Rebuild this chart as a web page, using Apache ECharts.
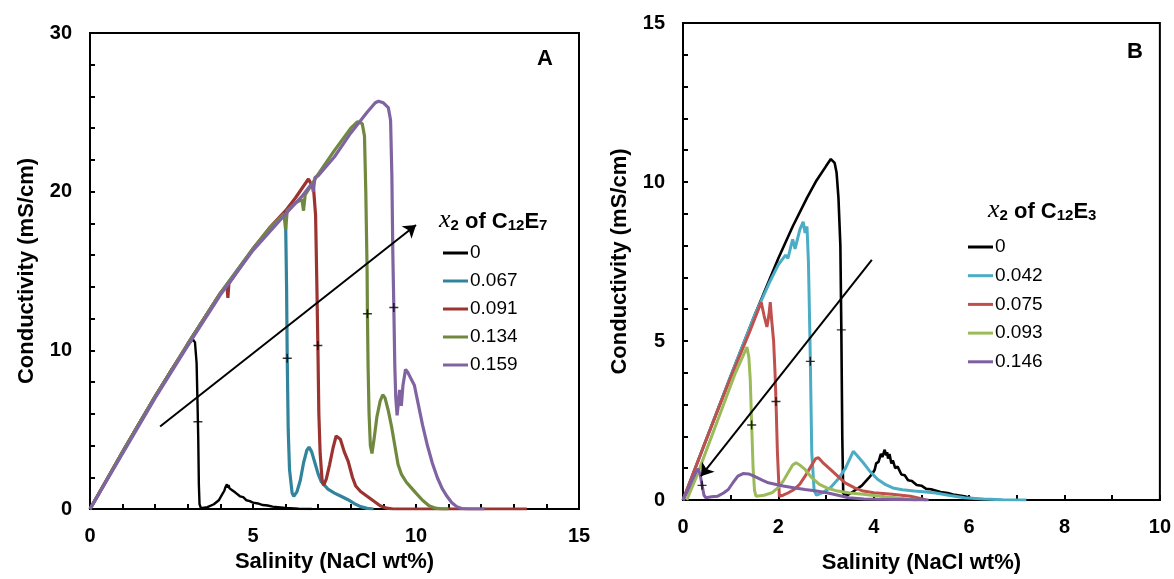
<!DOCTYPE html>
<html>
<head>
<meta charset="utf-8">
<script src="https://cdn.jsdelivr.net/npm/echarts@6/dist/echarts.min.js"></script>
<style>
html,body{margin:0;padding:0;background:#fff;}
#c{width:1174px;height:579px;}
</style>
</head>
<body>
<div id="c"></div>
<script>
// ---------- Panel A : x2 of C12E7 ----------
const namesA = ['0', '0.067', '0.091', '0.134', '0.159'];
const colorsA = ['#000000', '#31849B', '#9B3431', '#71893F', '#8064A2'];
const a0 = [[0,0],[0.5,1.8],[1,3.6],[1.5,5.4],[2,7.1],[2.5,8.8],[3.0,10.3],[3.15,10.7],[3.22,10.5],[3.27,9.2],[3.3,6.5],[3.32,4.5],[3.34,1.5],[3.36,0.3],[3.4,0.05],[3.6,0.12],[3.8,0.3],[3.95,0.55],[4.05,0.9],[4.12,1.15],[4.15,1.35],[4.18,1.25],[4.2,1.55],[4.23,1.35],[4.25,1.5],[4.28,1.3],[4.32,1.4],[4.35,1.2],[4.4,1.3],[4.45,1.05],[4.5,1.1],[4.6,0.8],[4.7,0.75],[4.8,0.55],[4.9,0.5],[5.0,0.4],[5.15,0.35],[5.3,0.25],[5.45,0.22],[5.6,0.15],[6.0,0.06],[6.4,0.02],[6.8,0]];
const a1 = [[0,0],[0.5,1.8],[1,3.6],[2,7.1],[3,10.4],[4,13.6],[4.5,15.0],[5,16.4],[5.5,17.6],[5.8,18.3],[5.95,18.6],[6.0,18.2],[6.03,14],[6.05,9.5],[6.08,5],[6.12,2.5],[6.2,1.0],[6.25,0.8],[6.35,1.1],[6.45,1.8],[6.55,2.9],[6.65,3.7],[6.72,3.9],[6.8,3.6],[6.9,2.9],[7.0,2.2],[7.1,1.7],[7.3,1.25],[7.5,1.0],[7.7,0.8],[7.9,0.6],[8.1,0.35],[8.3,0.15],[8.5,0.04],[8.7,0]];
const a2 = [[0,0],[0.5,1.8],[1,3.6],[2,7.1],[3,10.4],[4,13.6],[4.2,14.1],[4.23,13.3],[4.26,14.2],[5,16.4],[5.5,17.7],[6,18.8],[6.3,19.6],[6.5,20.2],[6.7,20.8],[6.78,20.5],[6.85,20.4],[6.92,18.5],[6.96,14],[6.99,10.3],[7.02,6],[7.06,3.5],[7.12,1.8],[7.17,1.5],[7.25,1.9],[7.35,2.8],[7.45,3.8],[7.55,4.6],[7.6,4.7],[7.68,4.4],[7.8,3.6],[7.92,3.0],[8.05,2.0],[8.15,1.45],[8.3,1.1],[8.5,0.8],[8.7,0.5],[8.9,0.2],[9.1,0.05],[9.3,0],[13.4,0]];
const a3 = [[0,0],[0.5,1.8],[1,3.6],[2,7.1],[3,10.4],[4,13.6],[5,16.4],[5.5,17.7],[5.95,18.6],[6.0,17.6],[6.05,18.8],[6.3,19.3],[6.5,19.5],[6.55,18.8],[6.6,19.8],[7,21.1],[7.5,22.6],[8,24.0],[8.2,24.4],[8.35,24.3],[8.42,23.5],[8.46,20],[8.5,15],[8.51,12.3],[8.53,9],[8.56,6],[8.6,4],[8.65,3.5],[8.72,4.5],[8.8,5.8],[8.9,6.8],[8.98,7.2],[9.05,7.0],[9.15,6.2],[9.25,5.2],[9.35,4.0],[9.45,2.8],[9.55,2.2],[9.7,1.7],[9.85,1.35],[10.0,1.0],[10.2,0.55],[10.4,0.2],[10.6,0.05],[10.8,0],[11,0]];
const a4 = [[0,0],[0.5,1.75],[1,3.5],[2,7.0],[3,10.3],[4,13.5],[5,16.3],[6,18.6],[6.5,19.7],[6.8,20.5],[6.85,20.0],[6.9,20.9],[7,21.0],[7.5,22.2],[8,23.7],[8.5,25.0],[8.75,25.6],[8.85,25.7],[9.0,25.6],[9.15,25.3],[9.22,24.5],[9.26,21],[9.29,16],[9.32,12.7],[9.35,9],[9.38,7],[9.42,5.9],[9.46,5.8],[9.5,7.5],[9.55,6.5],[9.6,7.8],[9.68,8.8],[9.75,8.6],[9.85,8.2],[9.95,7.8],[10.05,6.8],[10.2,5.3],[10.35,4.0],[10.5,2.9],[10.65,2.0],[10.8,1.3],[10.95,0.8],[11.1,0.4],[11.25,0.15],[11.4,0.03],[11.6,0],[12.1,0]];
const crossA = [[3.31,5.5],[6.05,9.5],[6.99,10.3],[8.51,12.3],[9.32,12.7]];
const arrowA = [[2.15,5.2],[10.0,17.9]];
const xTicksA = {min:0, max:15, interval:5};
const yTicksA = {min:0, max:30, interval:10};

// ---------- Panel B : x2 of C12E3 ----------
const namesB = ['0', '0.042', '0.075', '0.093', '0.146'];
const colorsB = ['#000000', '#4BACC6', '#C0504D', '#9BBB59', '#7F5FA0'];
const b0 = [[0,0],[0.5,1.95],[1,3.9],[1.5,5.8],[2,7.6],[2.3,8.6],[2.6,9.5],[2.8,10.05],[3.0,10.5],[3.1,10.72],[3.18,10.6],[3.22,10.3],[3.26,9.5],[3.3,8],[3.32,5.4],[3.34,2],[3.36,0.2],[3.45,0.15],[3.6,0.3],[3.75,0.45],[3.9,0.7],[3.98,0.85],[4.02,0.95],[4.05,1.15],[4.1,1.2],[4.15,1.45],[4.18,1.35],[4.23,1.58],[4.26,1.4],[4.28,1.5],[4.3,1.3],[4.33,1.45],[4.37,1.15],[4.4,1.25],[4.45,1.0],[4.5,1.05],[4.58,0.8],[4.65,0.78],[4.72,0.62],[4.8,0.6],[4.9,0.47],[5.0,0.45],[5.1,0.35],[5.2,0.34],[5.4,0.25],[5.55,0.22],[5.7,0.16],[5.9,0.12],[6.1,0.03],[6.3,0]];
const b1 = [[0,0],[0.5,1.95],[1,3.9],[1.5,5.8],[1.8,6.8],[2.0,7.4],[2.15,7.7],[2.2,7.6],[2.3,8.2],[2.35,7.9],[2.45,8.5],[2.52,8.75],[2.56,8.4],[2.6,8.6],[2.63,7.5],[2.65,6],[2.67,4.4],[2.7,1.5],[2.75,0.3],[2.8,0.15],[2.95,0.25],[3.1,0.4],[3.25,0.65],[3.4,0.98],[3.5,1.3],[3.57,1.53],[3.65,1.4],[3.78,1.17],[3.92,0.9],[4.08,0.65],[4.25,0.48],[4.4,0.38],[4.6,0.32],[4.85,0.28],[5.1,0.25],[5.3,0.22],[5.6,0.14],[5.9,0.07],[6.3,0.03],[6.7,0.01],[7.2,0]];
const b2 = [[0,0],[0.5,1.95],[1,3.85],[1.4,5.3],[1.64,6.22],[1.7,5.8],[1.76,5.44],[1.8,5.8],[1.83,6.22],[1.86,5.65],[1.9,5.0],[1.93,4],[1.95,3.1],[1.98,1.5],[2.02,0.12],[2.1,0.15],[2.2,0.22],[2.33,0.33],[2.45,0.5],[2.56,0.75],[2.68,1.05],[2.78,1.3],[2.84,1.33],[2.95,1.15],[3.09,0.96],[3.25,0.74],[3.4,0.54],[3.6,0.38],[3.78,0.28],[4.0,0.23],[4.39,0.18],[4.77,0.12],[5.0,0.04],[5.1,0]];
const b3 = [[0.08,0],[0.3,0.8],[0.6,2.0],[0.9,3.2],[1.1,4.0],[1.25,4.5],[1.34,4.81],[1.38,4.5],[1.41,3.8],[1.44,2.36],[1.47,1.0],[1.5,0.3],[1.53,0.12],[1.7,0.15],[1.87,0.23],[2.0,0.4],[2.1,0.59],[2.2,0.85],[2.3,1.1],[2.37,1.17],[2.45,1.1],[2.56,0.96],[2.7,0.7],[2.86,0.49],[3.05,0.36],[3.24,0.28],[3.5,0.22],[3.78,0.18],[4.0,0.14],[4.24,0.1],[4.5,0.06],[4.7,0.03],[4.9,0]];
const b4 = [[0,0],[0.1,0.3],[0.2,0.65],[0.28,0.9],[0.32,0.98],[0.36,0.8],[0.4,0.46],[0.44,0.15],[0.48,0.07],[0.6,0.1],[0.73,0.12],[0.85,0.22],[0.95,0.33],[1.05,0.55],[1.15,0.75],[1.26,0.83],[1.38,0.82],[1.49,0.75],[1.65,0.63],[1.79,0.54],[2.1,0.44],[2.35,0.38],[2.56,0.33],[2.8,0.28],[3.02,0.23],[3.25,0.15],[3.47,0.07],[3.8,0.03],[4.08,0.02],[5.15,0]];
const crossB = [[3.32,5.35],[2.67,4.36],[1.95,3.1],[1.44,2.36],[0.4,0.46]];
const arrowB = [[3.96,7.55],[0.375,0.75]];
const xTicksB = {min:0, max:10, interval:2};
const yTicksB = {min:0, max:15, interval:5};

const seriesA = [a0, a1, a2, a3, a4];
const seriesB = [b0, b1, b2, b3, b4];

const FONT = "'Liberation Sans', Arial, sans-serif";

function xAxis(idx, t, minorSplit, nameGap) {
  return {
    type: 'value', gridIndex: idx, min: t.min, max: t.max, interval: t.interval,
    name: 'Salinity (NaCl wt%)', nameLocation: 'middle', nameGap: nameGap,
    nameTextStyle: {fontFamily: FONT, fontWeight: 'bold', fontSize: 22, color: '#000'},
    axisLine: {show: true, onZero: false, lineStyle: {color: '#000', width: 2}},
    axisTick: {show: true, inside: true, length: 5, lineStyle: {color: '#000', width: 2}},
    minorTick: {show: true, splitNumber: minorSplit, length: 5, lineStyle: {color: '#000', width: 2}},
    splitLine: {show: false},
    axisLabel: {fontFamily: FONT, fontWeight: 'bold', fontSize: 20, color: '#000', margin: 17}
  };
}
function yAxis(idx, t, minorSplit, nameGap) {
  return {
    type: 'value', gridIndex: idx, min: t.min, max: t.max, interval: t.interval,
    name: 'Conductivity (mS/cm)', nameLocation: 'middle', nameGap: nameGap,
    nameTextStyle: {fontFamily: FONT, fontWeight: 'bold', fontSize: 22, color: '#000'},
    axisLine: {show: true, onZero: false, lineStyle: {color: '#000', width: 2}},
    axisTick: {show: true, inside: true, length: 5, lineStyle: {color: '#000', width: 2}},
    minorTick: {show: true, splitNumber: minorSplit, length: 5, lineStyle: {color: '#000', width: 2}},
    splitLine: {show: false},
    axisLabel: {fontFamily: FONT, fontWeight: 'bold', fontSize: 20, color: '#000', margin: 18}
  };
}

const series = [];
seriesA.forEach((d, i) => series.push({
  type: 'line', name: namesA[i], xAxisIndex: 0, yAxisIndex: 0, data: d,
  showSymbol: false, symbol: 'none', color: colorsA[i],
  lineStyle: {width: i === 0 ? 2.4 : 3.2, color: colorsA[i]}, z: 2 + i
}));
seriesB.forEach((d, i) => series.push({
  type: 'line', name: namesB[i], xAxisIndex: 1, yAxisIndex: 1, data: d,
  showSymbol: false, symbol: 'none', color: colorsB[i],
  lineStyle: {width: i === 0 ? 2.6 : 3, color: colorsB[i]}, z: 2 + i
}));
const PLUS = 'path://M4.2,0h1.6v4.2h4.2v1.6h-4.2v4.2h-1.6v-4.2h-4.2v-1.6h4.2z';
series.push({type: 'scatter', name: 'crossA', xAxisIndex: 0, yAxisIndex: 0, data: crossA,
  symbol: PLUS, symbolSize: 9, itemStyle: {color: '#000'}, z: 20});
series.push({type: 'scatter', name: 'crossB', xAxisIndex: 1, yAxisIndex: 1, data: crossB,
  symbol: PLUS, symbolSize: 9, itemStyle: {color: '#000'}, z: 20});
series.push({type: 'lines', coordinateSystem: 'cartesian2d', xAxisIndex: 0, yAxisIndex: 0,
  data: [{coords: arrowA}], symbol: ['none', 'arrow'], symbolSize: 12,
  lineStyle: {color: '#000', width: 2, opacity: 1}, z: 21});
series.push({type: 'lines', coordinateSystem: 'cartesian2d', xAxisIndex: 1, yAxisIndex: 1,
  data: [{coords: arrowB}], symbol: ['none', 'arrow'], symbolSize: 12,
  lineStyle: {color: '#000', width: 2, opacity: 1}, z: 21});

function legend(names, left, top, gap) {
  return {
    orient: 'vertical', left: left, top: top, padding: 0, itemGap: gap,
    itemWidth: 25, itemHeight: 3, icon: 'rect', selectedMode: false,
    data: names,
    textStyle: {fontFamily: FONT, fontSize: 19, color: '#000', lineHeight: 20, padding: [0,0,0,-3]}
  };
}

const richTitle = {
  i: {fontFamily: "'Liberation Serif', 'DejaVu Serif', serif", fontStyle: 'italic', fontSize: 26, fill: '#000', lineHeight: 28, verticalAlign: 'bottom'},
  b: {fontFamily: FONT, fontWeight: 'bold', fontSize: 22, fill: '#000', lineHeight: 28, verticalAlign: 'bottom'},
  s: {fontFamily: FONT, fontWeight: 'bold', fontSize: 15, fill: '#000', lineHeight: 9, verticalAlign: 'bottom'}
};

const option = {
  animation: false,
  backgroundColor: '#fff',
  grid: [
    {left: 90, top: 33, width: 489, height: 476, show: true, borderColor: '#000', borderWidth: 2},
    {left: 683, top: 23, width: 480, height: 481, show: true, borderColor: '#000', borderWidth: 2}
  ],
  xAxis: [xAxis(0, xTicksA, 5, 42), xAxis(1, xTicksB, 2, 52)],
  yAxis: [yAxis(0, yTicksA, 5, 52), yAxis(1, yTicksB, 5, 52)],
  legend: [legend(namesA, 443, 243, 8), legend(namesB, 968, 237, 8.7)],
  graphic: [
    {type: 'text', left: 439, top: 207, z: 30, style: {text: '{i|x}{s|2}{b| of C}{s|12}{b|E}{s|7}', rich: richTitle}},
    {type: 'text', left: 988, top: 197, z: 30, style: {text: '{i|x}{s|2}{b| of C}{s|12}{b|E}{s|3}', rich: richTitle}},
    {type: 'text', left: 537, top: 48, z: 30, style: {text: 'A', font: "bold 22px 'Liberation Sans', Arial", fill: '#000'}},
    {type: 'text', left: 1127, top: 41, z: 30, style: {text: 'B', font: "bold 22px 'Liberation Sans', Arial", fill: '#000'}}
  ],
  series: series
};

const chart = echarts.init(document.getElementById('c'), null, {renderer: 'canvas'});
chart.setOption(option);
</script>
</body>
</html>
